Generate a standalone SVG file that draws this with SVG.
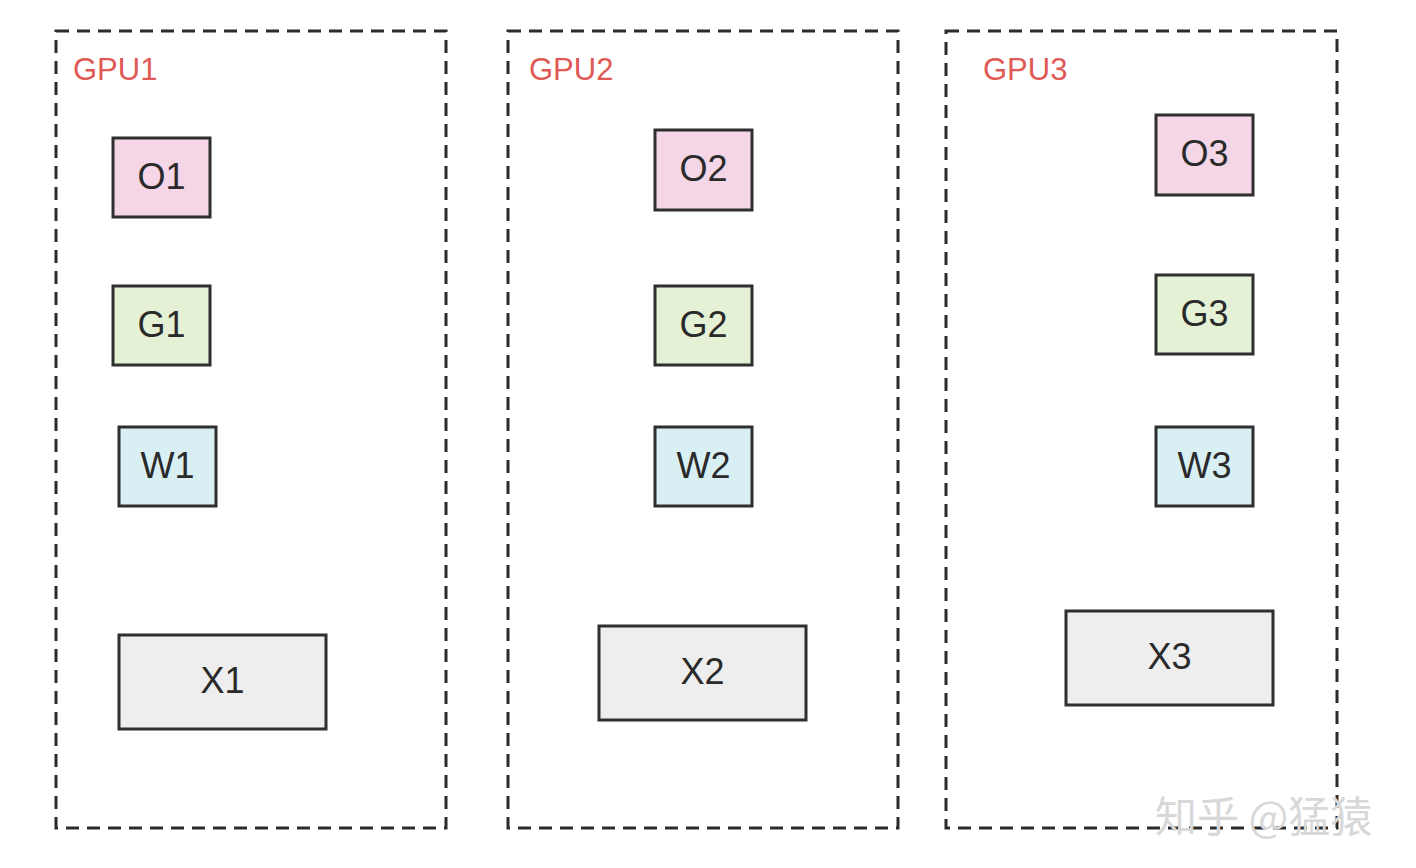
<svg xmlns="http://www.w3.org/2000/svg" width="1416" height="868" viewBox="0 0 1416 868">
<style>
.gpu{fill:none;stroke:#2b2b2b;stroke-width:3;stroke-dasharray:13 8}
.gl{font-family:"Liberation Sans",Arial,sans-serif;font-size:31px;fill:#e05a55}
.n{stroke:#2f2f2f;stroke-width:3}
.t{font-family:"Liberation Sans",Arial,sans-serif;font-size:36px;fill:#2a2a2a;text-anchor:middle;dominant-baseline:central}
.o{fill:#f5d6e7}.g{fill:#e4f1d5}.w{fill:#d8eff3}.x{fill:#eeeeee}
.wm{font-family:"Noto Sans CJK SC","Liberation Sans",sans-serif;font-size:42px;fill:#d8d8d8}
</style>
<rect width="1416" height="868" fill="#ffffff"/>
<g id="gpu1"><rect class="gpu" x="56" y="31" width="390" height="797"/><text class="gl" x="73" y="80">GPU1</text></g>
<g id="gpu2"><rect class="gpu" x="508" y="31" width="390" height="797"/><text class="gl" x="529" y="80">GPU2</text></g>
<g id="gpu3"><rect class="gpu" x="946" y="31" width="391" height="797"/><text class="gl" x="983" y="80">GPU3</text></g>
<g id="O1"><rect class="n o" x="113" y="138" width="97" height="79"/><text class="t" x="161.5" y="176">O1</text></g>
<g id="G1"><rect class="n g" x="113" y="286" width="97" height="79"/><text class="t" x="161.5" y="324">G1</text></g>
<g id="W1"><rect class="n w" x="119" y="427" width="97" height="79"/><text class="t" x="167.5" y="465">W1</text></g>
<g id="X1"><rect class="n x" x="119" y="635" width="207" height="94"/><text class="t" x="222.5" y="680">X1</text></g>
<g id="O2"><rect class="n o" x="655" y="130" width="97" height="80"/><text class="t" x="703.5" y="168">O2</text></g>
<g id="G2"><rect class="n g" x="655" y="286" width="97" height="79"/><text class="t" x="703.5" y="324">G2</text></g>
<g id="W2"><rect class="n w" x="655" y="427" width="97" height="79"/><text class="t" x="703.5" y="465">W2</text></g>
<g id="X2"><rect class="n x" x="599" y="626" width="207" height="94"/><text class="t" x="702.5" y="671">X2</text></g>
<g id="O3"><rect class="n o" x="1156" y="115" width="97" height="80"/><text class="t" x="1204.5" y="153">O3</text></g>
<g id="G3"><rect class="n g" x="1156" y="275" width="97" height="79"/><text class="t" x="1204.5" y="313">G3</text></g>
<g id="W3"><rect class="n w" x="1156" y="427" width="97" height="79"/><text class="t" x="1204.5" y="465">W3</text></g>
<g id="X3"><rect class="n x" x="1066" y="611" width="207" height="94"/><text class="t" x="1169.5" y="656">X3</text></g>
<g id="connectors"></g>
<text class="wm" x="1155" y="832">知乎 @猛猿</text>
</svg>
